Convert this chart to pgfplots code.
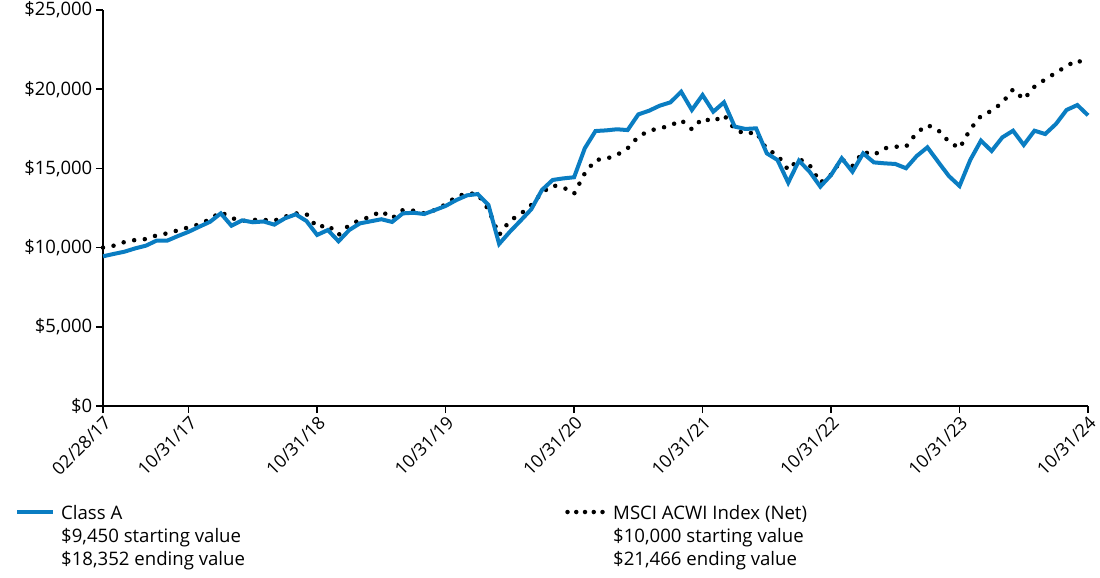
\documentclass[border=0pt]{standalone}
\usepackage{pgfplots}
\pgfplotsset{compat=1.18}
\usepackage{pgfplotstable}
\usepackage{fontspec}
\setmainfont{Open Sans}
\definecolor{blueA}{HTML}{0A7DC2}

\pgfplotstableread{
i classA msci
0 9450 10000
1 9600 10120
2 9740 10350
3 9950 10480
4 10120 10540
5 10440 10770
6 10440 10900
7 10730 11090
8 11000 11280
9 11320 11470
10 11630 11800
11 12160 12250
12 11380 11870
13 11720 11680
14 11600 11750
15 11650 11750
16 11450 11700
17 11850 11950
18 12100 12160
19 11680 12120
20 10800 11280
21 11110 11430
22 10400 10800
23 11110 11430
24 11530 11740
25 11660 11950
26 11790 12310
27 11620 11850
28 12160 12370
29 12200 12330
30 12120 12160
31 12370 12370
32 12630 12730
33 13000 13210
34 13300 13430
35 13380 13380
36 12690 12400
37 10230 10800
38 11000 11700
39 11700 12120
40 12420 12690
41 13640 13470
42 14270 13930
43 14370 13800
44 14440 13400
45 16270 14690
46 17360 15530
47 17400 15610
48 17470 15850
49 17420 16270
50 18410 17000
51 18640 17380
52 18960 17530
53 19170 17700
54 19840 18050
55 18690 17470
56 19630 18160
57 18580 17950
58 19170 18370
59 17640 17470
60 17490 17170
61 17530 17300
62 15950 16200
63 15530 15850
64 14100 14900
65 15490 15610
66 14790 15210
67 13850 14100
68 14580 14600
69 15640 15570
70 14790 15150
71 15950 16050
72 15380 15850
73 15320 16270
74 15280 16370
75 15010 16370
76 15780 17250
77 16330 17740
78 15420 17420
79 14520 16690
80 13890 16270
81 15530 17470
82 16750 18310
83 16100 18640
84 16960 19150
85 17380 19990
86 16480 19360
87 17380 20160
88 17170 20620
89 17800 21040
90 18690 21460
91 19000 21840
92 18352 21466
}\datatable

\begin{document}
\begin{tikzpicture}[x=1pt,y=1pt]
\path[use as bounding box] (0,0) rectangle (1100,-578);
\begin{axis}[
  at={(103pt,-406pt)}, anchor=south west,
  width=985pt, height=396pt, scale only axis,
  xmin=0, xmax=92, ymin=0, ymax=25000,
  axis x line*=bottom, axis y line*=left,
  axis line style={line width=1.5pt, black},
  every tick/.style={line width=1.5pt, black},
  major tick length=7pt, tick align=outside,
  xtick={0,8,20,32,44,56,68,80,92},
  xticklabels={02/28/17,10/31/17,10/31/18,10/31/19,10/31/20,10/31/21,10/31/22,10/31/23,10/31/24},
  xticklabel style={rotate=45, anchor=north east, font=\fontsize{17.8}{20}\selectfont, inner sep=1pt},
  ytick={0,5000,10000,15000,20000,25000},
  yticklabels={\$0,{\$5,000},{\$10,000},{\$15,000},{\$20,000},{\$25,000}},
  yticklabel style={font=\fontsize{18.5}{20}\selectfont, inner sep=3.5pt},
  scaled y ticks=false,
  clip=false,
]
\addplot[black, line width=4.5pt, line cap=round, dash pattern=on 0pt off 10.7pt] table[x=i, y=msci] {\datatable};
\addplot[blueA, line width=4pt, line join=miter] table[x=i, y=classA] {\datatable};
\end{axis}
\draw[blueA, line width=4pt] (17,-512) -- (53,-512);
\begin{scope}[every node/.style={anchor=base west, inner sep=0pt, font=\fontsize{18.6}{22}\selectfont}]
\node at (61,-519) {Class A};
\node at (61,-542) {\$9,450 starting value};
\node at (61,-565) {\$18,352 ending value};
\node at (613,-519) {MSCI ACWI Index (Net)};
\node at (613,-542) {\$10,000 starting value};
\node at (613,-565) {\$21,466 ending value};
\end{scope}
\draw[black, line width=4.5pt, line cap=round, dash pattern=on 0pt off 8.75pt] (567.5,-512) -- (603,-512);
\end{tikzpicture}
\end{document}
